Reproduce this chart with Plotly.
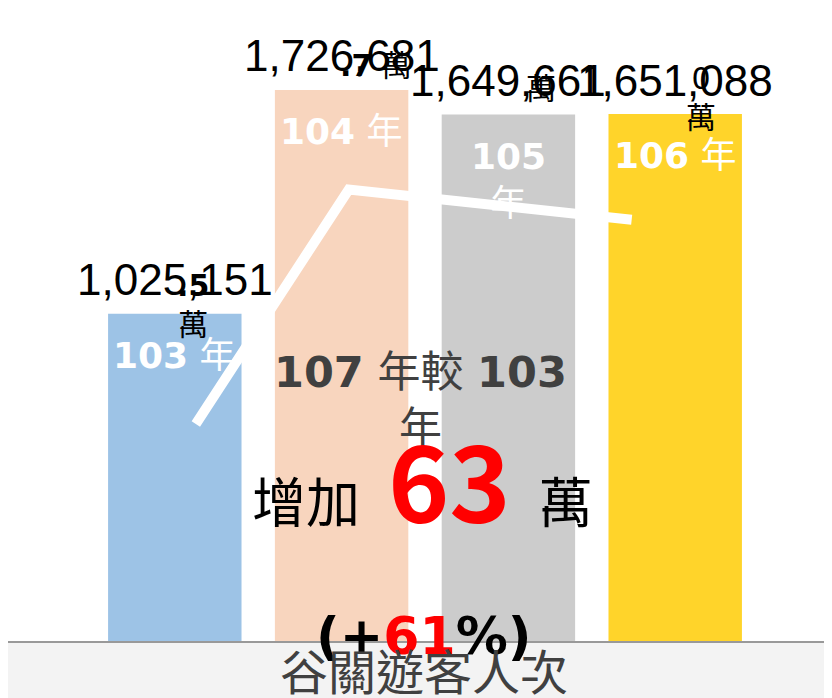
import plotly.graph_objects as go

# ---- data ----
years = ["103", "104", "105", "106"]
visitors = [1025151, 1726681, 1649661, 1651088]
wan_marks = ["<b>.5</b><br>萬", "<b>.7</b> 萬", "萬", "0<br>萬"]
trend_x = [0.126, 1.043, 2.739]
trend_y = [680000, 1415000, 1320000]
increase_wan = 63
increase_pct = 61
axis_title = "谷關遊客人次"

# ---- style ----
bar_colors = ["#9DC3E6", "#F8D5BE", "#CCCCCC", "#FFD42A"]
inside_breaks = [" ", " ", "<br>", " "]
wan_shift = [(18, 9), (34, 24), (33, 26), (26, 16)]
LAT = "Liberation Sans, Arial, sans-serif"
DJ = "DejaVu Sans, Noto Sans CJK TC, sans-serif"
CJK = "Noto Sans CJK TC, DejaVu Sans, sans-serif"

xs = list(range(len(years)))

fig = go.Figure()
fig.add_trace(go.Bar(
    x=xs, y=visitors, width=0.8,
    marker=dict(color=bar_colors, line=dict(width=0)),
    hoverinfo="skip", showlegend=False,
))
fig.add_trace(go.Scatter(
    x=trend_x, y=trend_y, mode="lines",
    line=dict(color="white", width=10),
    hoverinfo="skip", showlegend=False,
))

ann = []
for i, (yr, v) in enumerate(zip(years, visitors)):
    ann.append(dict(x=i, y=v, xref="x", yref="y", text=f"{v:,}",
                    showarrow=False, yanchor="middle", yshift=34,
                    font=dict(family=LAT, size=44, color="black")))
    ann.append(dict(x=i, y=v, xref="x", yref="y",
                    text=f"<b>{yr}</b>{inside_breaks[i]}年",
                    showarrow=False, yanchor="top", yshift=-19,
                    font=dict(family=DJ, size=36, color="white")))
    dx, dy = wan_shift[i]
    ann.append(dict(x=i, y=v, xref="x", yref="y", text=wan_marks[i],
                    showarrow=False, yanchor="middle", xshift=dx, yshift=dy,
                    font=dict(family=DJ, size=30, color="black")))

ann.append(dict(x=0.5, y=0.381, xref="paper", yref="paper",
                text="<b>107</b> 年較 <b>103</b><br>年", showarrow=False,
                font=dict(family=DJ, size=43, color="#404040")))
ann.append(dict(x=0.503, y=0.136, xref="paper", yref="paper",
                text=("增加\u2009 <b><span style='font-family:Noto Sans CJK TC;"
                      f"font-size:104px;color:#FF0000'>{increase_wan}</span></b> \u2009萬"),
                showarrow=False,
                font=dict(family=DJ, size=54, color="black")))
ann.append(dict(x=0.505, y=-0.043, xref="paper", yref="paper",
                text=f"<b>(+<span style='color:#FF0000'>{increase_pct}</span>%)</b>",
                showarrow=False,
                font=dict(family=DJ, size=52, color="black")))
ann.append(dict(x=0.505, y=-0.103, xref="paper", yref="paper",
                text=axis_title, showarrow=False,
                font=dict(family=CJK, size=48, color="#404040")))

fig.update_layout(
    width=824, height=690,
    margin=dict(l=0, r=0, t=0, b=57),
    paper_bgcolor="#F3F3F3", plot_bgcolor="white",
    annotations=ann, showlegend=False,
)
fig.update_xaxes(range=[-1.0, 3.94], showticklabels=False, showgrid=False,
                 zeroline=False, showline=True, linecolor="#999999", linewidth=2,
                 ticks="", fixedrange=True)
fig.update_yaxes(range=[0, 1983600], showticklabels=False, showgrid=False,
                 zeroline=False, showline=False, fixedrange=True)

fig.write_html("out.html", config={"displayModeBar": False})
